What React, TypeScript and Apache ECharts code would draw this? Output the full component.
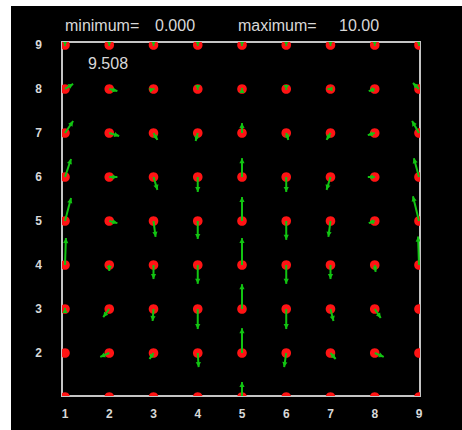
import React, { useEffect, useRef } from "react";
import * as echarts from "echarts";

// grid positions (x = 1..9, y = 9..1 from top row to bottom row)
const xValues = [1, 2, 3, 4, 5, 6, 7, 8, 9];
const yValues = [9, 8, 7, 6, 5, 4, 3, 2, 1];
const xTickLabels = ["1", "2", "3", "4", "5", "6", "7", "8", "9"];
const yTickLabels = ["1", "2", "3", "4", "5", "6", "7", "8", "9"];
const yTickValues = [1, 2, 3, 4, 5, 6, 7, 8, 9];

// vector u components, one row per y level (top row y=9 first)
const uRow9 = [0, 0, 0, 0, 0, 0, 0, 0, 0];
const uRow8 = [2.7, 2.7, 0.3, 0, 0, 0, -1.0, -2.0, -2.0];
const uRow7 = [2.7, 3.3, 1.3, -0.7, 0, 0.7, -1.3, -2.3, -2.3];
const uRow6 = [2.0, 2.7, 1.3, 0, 0, 0, -1.3, -2.3, -1.7];
const uRow5 = [2.0, 2.7, 0.7, 0, 0, 0, -0.7, -2.0, -2.0];
const uRow4 = [0.3, 0, 0, 0, 0, 0, 0, 0.3, -0.3];
const uRow3 = [0, -2.0, -0.3, 0, 0, 0, 1.0, 2.0, 0];
const uRow2 = [0, -3.0, -1.3, 0.3, 0, -0.7, 1.7, 3.0, 0];
const uRow1 = [0, 0, 0, 0, 0, 0, 0, 0, 0];

// vector v components (positive = up)
const vRow9 = [-0.3, -0.3, -0.3, -0.3, -0.3, -0.3, -0.3, -0.3, -0.3];
const vRow8 = [1.7, -0.7, 0.1, -0.3, 0.3, -0.3, 0, -0.7, 2.0];
const vRow7 = [4.0, -1.0, -2.3, -2.7, 3.3, -2.3, -2.3, -0.7, 4.0];
const vRow6 = [6.0, 0, -4.3, -5.0, 6.3, -5.0, -4.3, 0, 6.3];
const vRow5 = [7.7, -0.7, -5.3, -6.0, 8.0, -6.3, -5.3, -0.7, 8.3];
const vRow4 = [9.0, -2.0, -4.7, -6.3, 9.0, -6.3, -4.7, -2.3, 9.5];
const vRow3 = [0.3, -2.7, -4.0, -6.7, 8.3, -6.7, -4.0, -3.0, 0];
const vRow2 = [0, -1.3, -2.0, -4.7, 8.3, -4.7, -2.0, -1.3, 0];
const vRow1 = [0, 0, 0, 0, 5.0, 0, 0, 0, 0];

const uRows = [uRow9, uRow8, uRow7, uRow6, uRow5, uRow4, uRow3, uRow2, uRow1];
const vRows = [vRow9, vRow8, vRow7, vRow6, vRow5, vRow4, vRow3, vRow2, vRow1];

const minimumLabel = "minimum=";
const minimumValue = "0.000";
const maximumLabel = "maximum=";
const maximumValue = "10.00";
const refMagnitude = "9.508";

const VEC_SCALE = 0.068; // data units per unit of vector magnitude

export default function App() {
  const ref = useRef<HTMLDivElement>(null);

  useEffect(() => {
    if (!ref.current) return;
    const chart = echarts.init(ref.current, null, { renderer: "svg" });

    const data: number[][] = [];
    yValues.forEach((y, i) => {
      xValues.forEach((x, j) => {
        data.push([x, y, uRows[i][j], vRows[i][j]]);
      });
    });

    const textColor = "#d8d8d8";
    const font = "Liberation Sans";

    chart.setOption({
      animation: false,
      backgroundColor: "#000000",
      grid: {
        show: true,
        left: 51,
        top: 36,
        width: 358,
        height: 354,
        borderColor: "#c4c4c4",
        borderWidth: 2,
        backgroundColor: "transparent",
      },
      xAxis: {
        type: "value",
        min: 0.932,
        max: 9.023,
        axisLine: { show: false },
        axisTick: { show: false },
        splitLine: { show: false },
        axisLabel: {
          customValues: xValues,
          formatter: (val: number) => xTickLabels[Math.round(val) - 1] ?? "",
          color: textColor,
          fontSize: 12,
          fontWeight: "bold",
          fontFamily: font,
          margin: 12,
        },
      },
      yAxis: {
        type: "value",
        min: 1.023,
        max: 9.068,
        axisLine: { show: false },
        axisTick: { show: false },
        splitLine: { show: false },
        axisLabel: {
          customValues: yTickValues,
          formatter: (val: number) => yTickLabels[Math.round(val) - 1] ?? "",
          color: textColor,
          fontSize: 12,
          fontWeight: "bold",
          fontFamily: font,
          margin: 20,
        },
      },
      graphic: [
        {
          type: "text",
          x: 54,
          y: 19,
          style: { text: minimumLabel, fill: textColor, fontSize: 16, fontFamily: font, verticalAlign: "middle" },
        },
        {
          type: "text",
          x: 144,
          y: 19,
          style: { text: minimumValue, fill: textColor, fontSize: 16, fontFamily: font, verticalAlign: "middle" },
        },
        {
          type: "text",
          x: 227,
          y: 19,
          style: { text: maximumLabel, fill: textColor, fontSize: 16, fontFamily: font, verticalAlign: "middle" },
        },
        {
          type: "text",
          x: 328,
          y: 19,
          style: { text: maximumValue, fill: textColor, fontSize: 16, fontFamily: font, verticalAlign: "middle" },
        },
        {
          type: "text",
          x: 77,
          y: 57,
          style: { text: refMagnitude, fill: textColor, fontSize: 16, fontFamily: font, verticalAlign: "middle" },
        },
      ],
      series: [
        {
          type: "custom",
          clip: true,
          data,
          renderItem: (params: any, api: any) => {
            const x = api.value(0);
            const y = api.value(1);
            const u = api.value(2);
            const v = api.value(3);
            const p = api.coord([x, y]);
            const unit = api.size([1, 1]);
            const ex = p[0] + u * VEC_SCALE * unit[0];
            const ey = p[1] - v * VEC_SCALE * unit[1];
            const len = Math.hypot(ex - p[0], ey - p[1]);
            const green = "#12c412";
            const children: any[] = [
              {
                type: "circle",
                shape: { cx: p[0], cy: p[1], r: 4.8 },
                style: { fill: "#ff1414" },
              },
            ];
            if (len > 0.01) {
              const dx = (ex - p[0]) / len;
              const dy = (ey - p[1]) / len;
              const hl = 5;
              const hw = 2.6;
              const bx = ex - dx * hl;
              const by = ey - dy * hl;
              children.push({
                type: "line",
                shape: { x1: p[0], y1: p[1], x2: ex, y2: ey },
                style: { stroke: green, lineWidth: 2 },
              });
              children.push({
                type: "polygon",
                shape: {
                  points: [
                    [ex, ey],
                    [bx - dy * hw, by + dx * hw],
                    [bx + dy * hw, by - dx * hw],
                  ],
                },
                style: { fill: green },
              });
            }
            return { type: "group", children };
          },
        },
      ],
    });

    return () => chart.dispose();
  }, []);

  return (
    <div
      style={{
        position: "absolute",
        left: 11,
        top: 6,
        width: 451,
        height: 424,
        background: "#000000",
      }}
    >
      <div ref={ref} style={{ width: 451, height: 424 }} />
    </div>
  );
}
